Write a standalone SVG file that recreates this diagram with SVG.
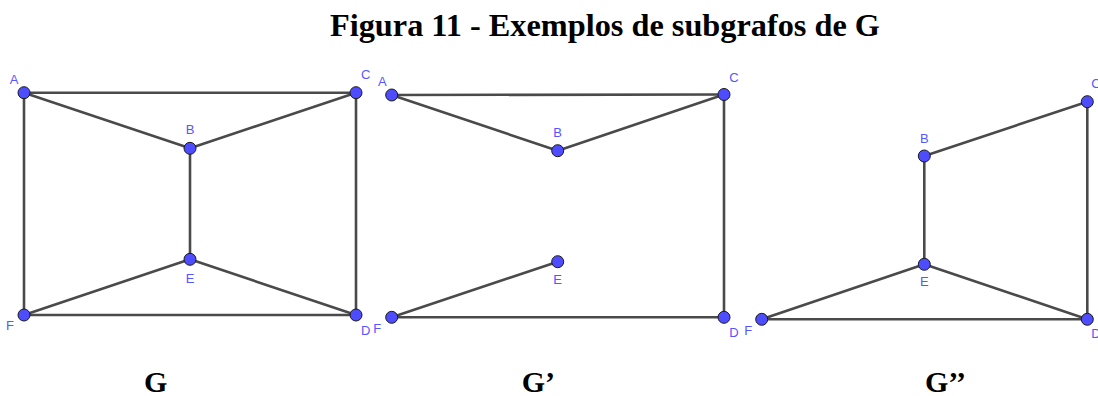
<svg xmlns="http://www.w3.org/2000/svg" width="1098" height="396" viewBox="0 0 1098 396">
<style>
.e{stroke:#4a4a4a;stroke-width:2.6;stroke-linecap:round;fill:none}
.p{fill:#4d4dff;stroke:#1a1a1a;stroke-width:1}
.l{font-family:"Liberation Sans",Arial,sans-serif;font-size:13px;fill:#5656ff;text-anchor:middle}
.t{font-family:"Liberation Serif","Times New Roman",serif;font-weight:bold;fill:#000}
.s{font-size:30px}
</style>
<rect width="1098" height="396" fill="#fff"/>
<text class="t" x="330" y="36" font-size="32.3">Figura 11 - Exemplos de subgrafos de G</text>
<g id="connectors">
<g id="edges-G">
<line class="e" x1="24" y1="92.7" x2="356" y2="92.7"/>
<line class="e" x1="24" y1="92.7" x2="190" y2="148.3"/>
<line class="e" x1="356" y1="92.7" x2="190" y2="148.3"/>
<line class="e" x1="190" y1="148.3" x2="190" y2="259.3"/>
<line class="e" x1="24" y1="315" x2="190" y2="259.3"/>
<line class="e" x1="356" y1="315" x2="190" y2="259.3"/>
<line class="e" x1="24" y1="92.7" x2="24" y2="315"/>
<line class="e" x1="356" y1="92.7" x2="356" y2="315"/>
<line class="e" x1="24" y1="315" x2="356" y2="315"/>
</g>
<g id="edges-G1">
<line class="e" x1="391.7" y1="95" x2="724" y2="94.5"/>
<line class="e" x1="391.7" y1="95" x2="557.7" y2="150.7"/>
<line class="e" x1="724" y1="94.5" x2="557.7" y2="150.7"/>
<line class="e" x1="724" y1="94.5" x2="724" y2="317.3"/>
<line class="e" x1="391.7" y1="317.3" x2="557.7" y2="261.7"/>
<line class="e" x1="391.7" y1="317.3" x2="724" y2="317.3"/>
</g>
<g id="edges-G2">
<line class="e" x1="924.3" y1="156" x2="1087.3" y2="101.7"/>
<line class="e" x1="924.3" y1="156" x2="924.3" y2="264.3"/>
<line class="e" x1="761.7" y1="319.3" x2="924.3" y2="264.3"/>
<line class="e" x1="1087.3" y1="319.3" x2="924.3" y2="264.3"/>
<line class="e" x1="761.7" y1="319.3" x2="1087.3" y2="319.3"/>
<line class="e" x1="1087.3" y1="101.7" x2="1087.3" y2="319.3"/>
</g>
</g>
<g id="G-A"><circle class="p" cx="24" cy="92.7" r="6"/><text class="l" x="14" y="83.5">A</text></g>
<g id="G-B"><circle class="p" cx="190" cy="148.3" r="6"/><text class="l" x="190" y="133.5">B</text></g>
<g id="G-C"><circle class="p" cx="356" cy="92.7" r="6"/><text class="l" x="365.7" y="79">C</text></g>
<g id="G-D"><circle class="p" cx="356" cy="315" r="6"/><text class="l" x="365.7" y="334.5">D</text></g>
<g id="G-E"><circle class="p" cx="190" cy="259.3" r="6"/><text class="l" x="190" y="283">E</text></g>
<g id="G-F"><circle class="p" cx="24" cy="315" r="6"/><text class="l" x="10" y="329.5">F</text></g>
<g id="G1-A"><circle class="p" cx="391.7" cy="95" r="6"/><text class="l" x="382.3" y="85.5">A</text></g>
<g id="G1-B"><circle class="p" cx="557.7" cy="150.7" r="6"/><text class="l" x="557.7" y="136.5">B</text></g>
<g id="G1-C"><circle class="p" cx="724" cy="94.5" r="6"/><text class="l" x="734" y="81.5">C</text></g>
<g id="G1-D"><circle class="p" cx="724" cy="317.3" r="6"/><text class="l" x="734" y="337">D</text></g>
<g id="G1-E"><circle class="p" cx="557.7" cy="261.7" r="6"/><text class="l" x="557.7" y="283.5">E</text></g>
<g id="G1-F"><circle class="p" cx="391.7" cy="317.3" r="6"/><text class="l" x="377.3" y="332.5">F</text></g>
<g id="G2-B"><circle class="p" cx="924.3" cy="156" r="6"/><text class="l" x="924.3" y="142.5">B</text></g>
<g id="G2-C"><circle class="p" cx="1087.3" cy="101.7" r="6"/><text class="l" x="1096" y="88">C</text></g>
<g id="G2-D"><circle class="p" cx="1087.3" cy="319.3" r="6"/><text class="l" x="1096" y="338">D</text></g>
<g id="G2-E"><circle class="p" cx="924.3" cy="264.3" r="6"/><text class="l" x="924.3" y="285.5">E</text></g>
<g id="G2-F"><circle class="p" cx="761.7" cy="319.3" r="6"/><text class="l" x="748.3" y="334.5">F</text></g>
<text class="t s" x="144" y="391.5">G</text>
<text class="t s" x="521.7" y="391.5">G’</text>
<text class="t s" x="925" y="391.5">G’’</text>
</svg>
